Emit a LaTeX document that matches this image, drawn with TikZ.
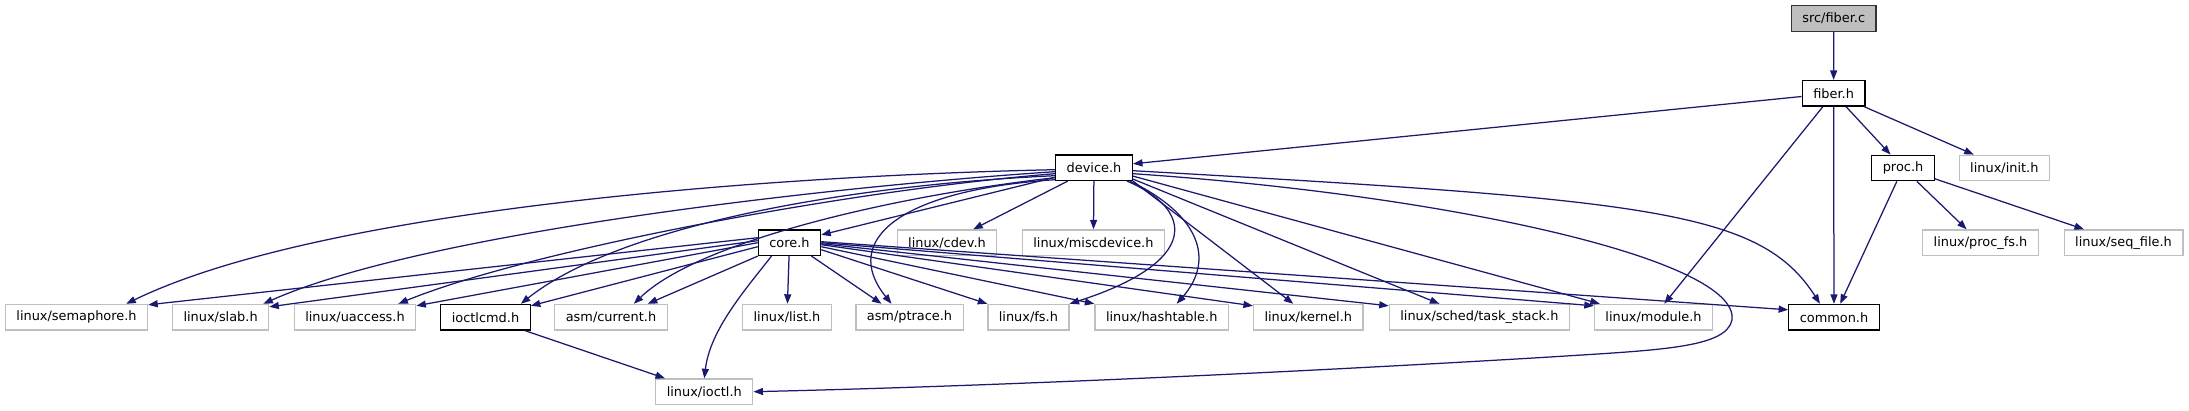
\documentclass[tikz,border=0pt]{standalone}
\usepackage{fontspec}
\setmainfont{DejaVu Sans}
\usepackage{tikz}
\usetikzlibrary{arrows.meta}
\definecolor{azulgrafo}{HTML}{191970}
\definecolor{cinzaborda}{HTML}{BFBFBF}

\begin{document}
\begin{tikzpicture}[x=1pt, y=-1pt,  % 1 unidade = 1 pixel, y para baixo
  every node/.style={font=\fontsize{12.9}{15}\selectfont, minimum height=25.5pt, inner xsep=11pt, inner ysep=0pt, line width=1.3pt},
  doc/.style={draw=black, fill=white},
  ext/.style={draw=cinzaborda, fill=white},
  raiz/.style={draw=black!80, fill=cinzaborda},
  seta/.style={draw=azulgrafo, line width=1.25pt, -{Triangle[length=9.5pt, width=7pt]}}]
\fill[white] (0,0) rectangle (2189,411);  % fundo
\useasboundingbox (0,0) rectangle (2189,411);

% Nivel 0 e 1
\node[raiz] (fiberc) at (1833.7,18.5) {src/fiber.c};
\node[doc] (fiberh) at (1833.6,93.3) {fiber.h};

% Nivel 2
\node[doc] (deviceh) at (1094,167.7) {device.h};
\node[doc] (proch) at (1903,168) {proc.h};
\node[ext] (init) at (2004.3,168) {linux/init.h};

% Nivel 3
\node[doc] (coreh) at (789.5,242.7) {core.h};
\node[ext] (cdev) at (947,242.7) {linux/cdev.h};
\node[ext] (misc) at (1093.4,242.7) {linux/miscdevice.h};
\node[ext] (procfs) at (1980.5,242.7) {linux/proc\_fs.h};
\node[ext] (seqfile) at (2123.5,242.7) {linux/seq\_file.h};

% Nivel 4
\node[ext] (semaphore) at (76.5,317.2) {linux/semaphore.h};
\node[ext] (slab) at (220.6,317.2) {linux/slab.h};
\node[ext] (uaccess) at (355,317.2) {linux/uaccess.h};
\node[doc] (ioctlcmd) at (485.5,317.2) {ioctlcmd.h};
\node[ext] (current) at (611,317.2) {asm/current.h};
\node[ext] (list) at (787,317.2) {linux/list.h};
\node[ext] (ptrace) at (909.5,317.2) {asm/ptrace.h};
\node[ext] (fs) at (1028.4,317.2) {linux/fs.h};
\node[ext] (hashtable) at (1161.7,317.2) {linux/hashtable.h};
\node[ext] (kernel) at (1308.3,317.2) {linux/kernel.h};
\node[ext] (taskstack) at (1479.4,317.2) {linux/sched/task\_stack.h};
\node[ext] (module) at (1653.5,317.2) {linux/module.h};
\node[doc] (common) at (1834,317.2) {common.h};

% Nivel 5
\node[ext] (ioctl) at (704.3,391.7) {linux/ioctl.h};

% fiber.c, fiber.h e proc.h
\draw[seta] (fiberc) -- (fiberh);
\draw[seta] (fiberh) -- (deviceh);
\draw[seta] (fiberh) -- (proch);
\draw[seta] (fiberh) -- (init);
\draw[seta] (fiberh) -- (common);
\draw[seta] (fiberh) -- (module);
\draw[seta] (proch) -- (common);
\draw[seta] (proch) -- (procfs);
\draw[seta] (proch) -- (seqfile);

% device.h para baixo
\draw[seta] (deviceh) -- (coreh);
\draw[seta] (deviceh) -- (cdev);
\draw[seta] (deviceh) -- (misc);
\draw[seta] ([yshift=-2pt]deviceh.west) .. controls (800,175) and (330,205) .. ([xshift=-22pt]semaphore.north east);
\draw[seta] ([yshift=-4pt]deviceh.west) .. controls (850,185) and (430,230) .. ([xshift=-6pt]slab.north east);
\draw[seta] ([yshift=-6pt]deviceh.west) .. controls (850,190) and (530,250) .. ([xshift=-18pt]uaccess.north east);
\draw[seta] ([yshift=-8pt]deviceh.west) .. controls (850,185) and (620,225) .. ([xshift=-10pt]ioctlcmd.north east);
\draw[seta] ([yshift=-10pt]deviceh.west) .. controls (900,195) and (700,240) .. ([xshift=-34pt]current.north east);
\draw[seta] ([yshift=-12pt]deviceh.west) .. controls (900,190) and (840,240) .. ([xshift=-18pt]ptrace.north);
\draw[seta] ([xshift=-6pt]deviceh.south east) .. controls (1195,210) and (1200,262) .. (fs.north east);
\draw[seta] ([xshift=-3pt]deviceh.south east) .. controls (1200,215) and (1215,260) .. ([xshift=15pt]hashtable.north);
\draw[seta] (deviceh.south east) -- ([xshift=-15pt]kernel.north);
\draw[seta] ([yshift=2pt]deviceh.south east) -- ([xshift=-40pt]taskstack.north);
\draw[seta] ([yshift=5pt]deviceh.south east) -- ([xshift=6pt]module.north west);
\draw[seta] ([yshift=-3pt]deviceh.east) .. controls (1650,200) and (1760,210) .. ([xshift=-14pt]common.north);
\draw[seta] ([yshift=-6pt]deviceh.east) .. controls (1450,195) and (1740,260) .. (1732,320)
  .. controls (1726,348) and (1660,350) .. (1550,357)
  .. controls (1300,372) and (1000,386) .. (ioctl.east);  % volta por baixo

% core.h
\draw[seta] ([yshift=5pt]coreh.west) -- ([yshift=-1pt]semaphore.north east);
\draw[seta] ([yshift=2pt]coreh.west) -- ([yshift=-3pt]slab.north east);
\draw[seta] (coreh.west) -- ([yshift=-2pt]uaccess.north east);
\draw[seta] ([yshift=-4pt]coreh.west) -- ([yshift=-2pt]ioctlcmd.north east);
\draw[seta] (coreh.south west) -- ([xshift=-20pt]current.north east);
\draw[seta] ([xshift=-18pt]coreh.south) .. controls (745,290) and (710,330) .. (ioctl.north);
\draw[seta] (coreh) -- (list);
\draw[seta] ([xshift=22pt]coreh.south) -- ([xshift=-28pt]ptrace.north);
\draw[seta] ([yshift=-7pt]coreh.east) -- (fs.north west);
\draw[seta] ([yshift=-4pt]coreh.east) -- (hashtable.north west);
\draw[seta] ([yshift=-2pt]coreh.east) -- ([yshift=-2pt]kernel.north west);
\draw[seta] ([yshift=-1pt]coreh.east) -- ([yshift=-2pt]taskstack.north west);
\draw[seta] (coreh.east) -- ([yshift=-2pt]module.north west);
\draw[seta] ([yshift=1pt]coreh.east) -- ([yshift=-6pt]common.north west);

% ioctlcmd.h
\draw[seta] (ioctlcmd) -- (ioctl);
\end{tikzpicture}
\end{document}
